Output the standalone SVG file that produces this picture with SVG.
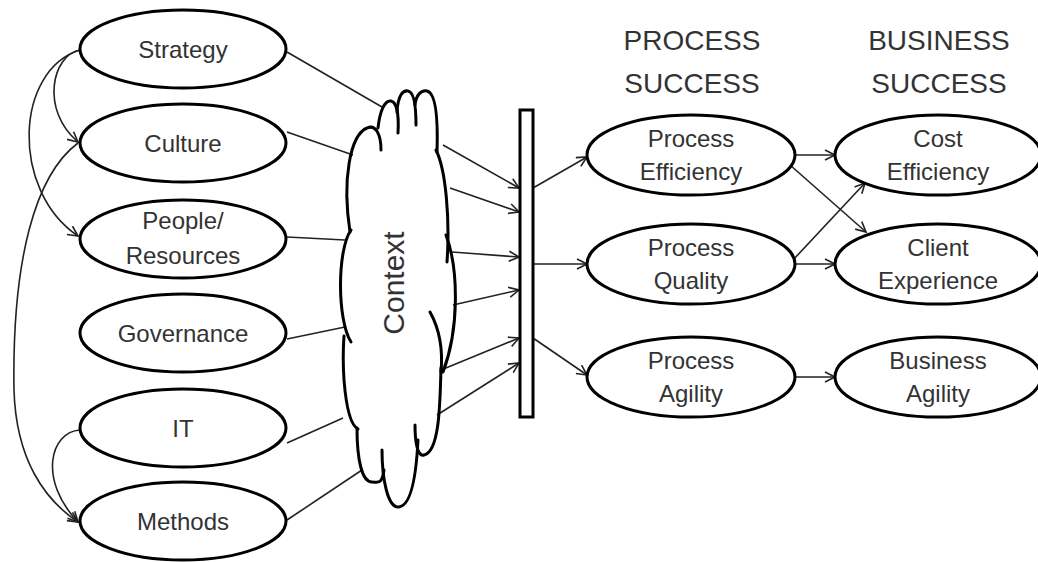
<svg xmlns="http://www.w3.org/2000/svg" width="1038" height="562" viewBox="0 0 1038 562">
<style>
.node{fill:#fff;stroke:#000;stroke-width:3}
.t{font-family:"Liberation Sans",Arial,sans-serif;font-size:24px;fill:#333;text-anchor:middle}
.h{font-family:"Liberation Sans",Arial,sans-serif;font-size:28px;fill:#333;text-anchor:middle}
.c{fill:none;stroke:#222;stroke-width:1.6}
.cl{fill:none;stroke:#000;stroke-width:3;stroke-linecap:round}
</style>
<defs>
<marker id="ah" markerUnits="userSpaceOnUse" markerWidth="14" markerHeight="14" refX="11" refY="6" orient="auto">
<path d="M1,1 L11,6 L1,11" fill="none" stroke="#222" stroke-width="1.6"/>
</marker>
</defs>
<rect width="1038" height="562" fill="#fff"/>

<g id="headings">
<text class="h" x="692" y="50">PROCESS</text>
<text class="h" x="692" y="93">SUCCESS</text>
<text class="h" x="939" y="50">BUSINESS</text>
<text class="h" x="939" y="93">SUCCESS</text>
</g>

<g id="connectors">
<path class="c" d="M287,52 L382,107"/>
<path class="c" d="M287,132 L353,155"/>
<path class="c" d="M287,237 L345,240"/>
<path class="c" d="M287,339 L345,327"/>
<path class="c" d="M287,443 L343,418"/>
<path class="c" d="M287,520 L362,470"/>
<path class="c" d="M80,50 C52,55 40,110 78,142" marker-end="url(#ah)"/>
<path class="c" d="M80,50 C15,70 10,190 78,236" marker-end="url(#ah)"/>
<path class="c" d="M78,143 C35,175 12,260 14,390 C16,460 45,500 78,522" marker-end="url(#ah)"/>
<path class="c" d="M80,430 C50,432 38,480 78,522" marker-end="url(#ah)"/>
<path class="c" d="M443,145 L519,188" marker-end="url(#ah)"/>
<path class="c" d="M450,188 L519,212" marker-end="url(#ah)"/>
<path class="c" d="M452,252 L519,257" marker-end="url(#ah)"/>
<path class="c" d="M453,305 L519,290" marker-end="url(#ah)"/>
<path class="c" d="M441,370 L519,338" marker-end="url(#ah)"/>
<path class="c" d="M437,415 L519,363" marker-end="url(#ah)"/>
<path class="c" d="M533,188 L587,157" marker-end="url(#ah)"/>
<path class="c" d="M533,264 L587,264" marker-end="url(#ah)"/>
<path class="c" d="M533,338 L587,375" marker-end="url(#ah)"/>
<path class="c" d="M795,155 L835,155" marker-end="url(#ah)"/>
<path class="c" d="M790,165 L866,232" marker-end="url(#ah)"/>
<path class="c" d="M793,260 L865,183" marker-end="url(#ah)"/>
<path class="c" d="M795,264 L835,264" marker-end="url(#ah)"/>
<path class="c" d="M795,377 L835,377" marker-end="url(#ah)"/>
</g>

<g id="strategy"><ellipse class="node" cx="183" cy="49" rx="103" ry="39"/><text class="t" x="183" y="58">Strategy</text></g>
<g id="culture"><ellipse class="node" cx="183" cy="143" rx="103" ry="39"/><text class="t" x="183" y="152">Culture</text></g>
<g id="people"><ellipse class="node" cx="183" cy="239" rx="103" ry="39"/><text class="t" x="183" y="229">People/</text><text class="t" x="183" y="264">Resources</text></g>
<g id="governance"><ellipse class="node" cx="183" cy="333" rx="103" ry="39"/><text class="t" x="183" y="342">Governance</text></g>
<g id="it"><ellipse class="node" cx="183" cy="428" rx="103" ry="39"/><text class="t" x="183" y="437">IT</text></g>
<g id="methods"><ellipse class="node" cx="183" cy="521" rx="103" ry="39"/><text class="t" x="183" y="530">Methods</text></g>

<g id="context">
<path class="cl" d="M350,232 C342,180 350,135 367,128 C376,124 381,135 381,150"/>
<path class="cl" d="M378,128 C380,110 385,100 391,101 C397,102 399,115 398,133"/>
<path class="cl" d="M397,112 C398,95 403,90 408,91 C414,92 416,105 416,125"/>
<path class="cl" d="M415,105 C416,95 421,90 427,91 C436,93 438,120 437,152"/>
<path class="cl" d="M436,150 C446,170 450,220 447,262"/>
<path class="cl" d="M446,235 C459,270 459,330 443,372"/>
<path class="cl" d="M430,312 C440,330 443,350 441,372"/>
<path class="cl" d="M441,368 C440,400 440,452 424,455 C417,457 415,440 415,425"/>
<path class="cl" d="M418,440 C416,480 410,507 398,507 C388,507 382,480 382,450"/>
<path class="cl" d="M384,470 C382,485 378,482 372,482 C362,482 357,460 357,428"/>
<path class="cl" d="M358,429 C350,425 346,405 344,380 C343,365 343,350 344,336"/>
<path class="cl" d="M351,342 C337,320 337,250 351,230"/>
<text font-family="Liberation Sans, Arial, sans-serif" font-size="30" fill="#333" text-anchor="middle" transform="translate(404,283) rotate(-90)">Context</text>
</g>

<g id="bar"><rect x="520" y="110" width="13" height="307" fill="#fff" stroke="#000" stroke-width="3"/></g>

<g id="process-efficiency"><ellipse class="node" cx="691" cy="155" rx="104" ry="40"/><text class="t" x="691" y="147">Process</text><text class="t" x="691" y="180">Efficiency</text></g>
<g id="process-quality"><ellipse class="node" cx="691" cy="264" rx="104" ry="40"/><text class="t" x="691" y="256">Process</text><text class="t" x="691" y="289">Quality</text></g>
<g id="process-agility"><ellipse class="node" cx="691" cy="377" rx="104" ry="40"/><text class="t" x="691" y="369">Process</text><text class="t" x="691" y="402">Agility</text></g>
<g id="cost-efficiency"><ellipse class="node" cx="938" cy="155" rx="103" ry="40"/><text class="t" x="938" y="147">Cost</text><text class="t" x="938" y="180">Efficiency</text></g>
<g id="client-experience"><ellipse class="node" cx="938" cy="264" rx="103" ry="40"/><text class="t" x="938" y="256">Client</text><text class="t" x="938" y="289">Experience</text></g>
<g id="business-agility"><ellipse class="node" cx="938" cy="377" rx="103" ry="40"/><text class="t" x="938" y="369">Business</text><text class="t" x="938" y="402">Agility</text></g>
</svg>
